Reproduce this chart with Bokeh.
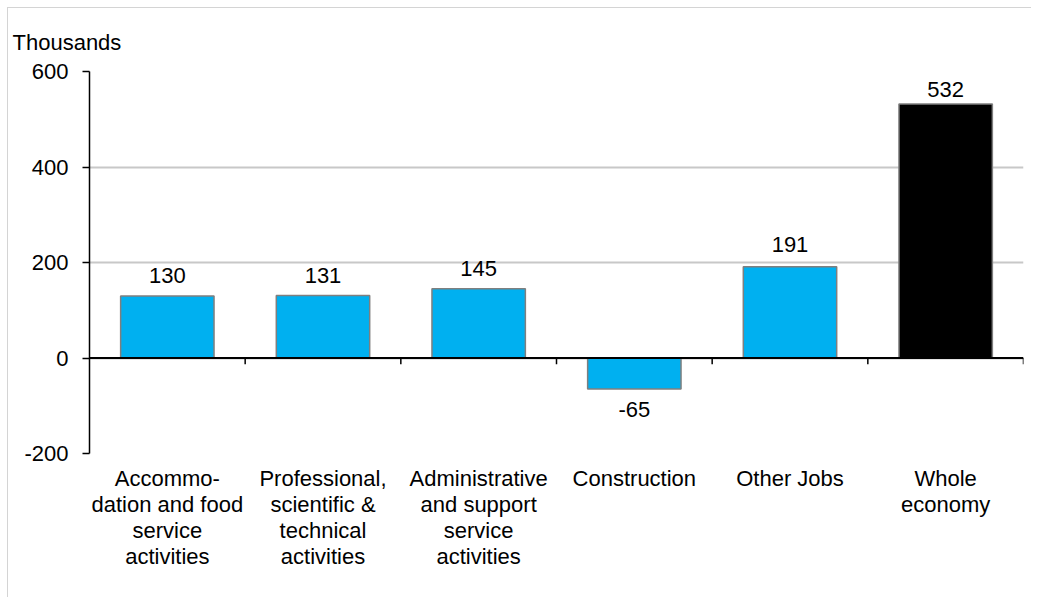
from bokeh.plotting import figure
from bokeh.models import ColumnDataSource, Span, FixedTicker
from bokeh.transform import dodge
from bokeh.core.properties import value
from bokeh.embed import file_html
from bokeh.resources import INLINE

categories = [
    "Accommo-\ndation and food\nservice\nactivities",
    "Professional,\nscientific &\ntechnical\nactivities",
    "Administrative\nand support\nservice\nactivities",
    "Construction",
    "Other Jobs",
    "Whole\neconomy",
]
values = [130, 131, 145, -65, 191, 532]
bar_colors = ["#00B0F0", "#00B0F0", "#00B0F0", "#00B0F0", "#00B0F0", "#000000"]
y_ticks = [-200, 0, 200, 400, 600]
y_tick_labels = {-200: "-200", 0: "0", 200: "200", 400: "400", 600: "600"}

FONT = "Liberation Sans"
FS = "22px"

label_offsets = [-20, -20, -20, 20, -22, -14]

src = ColumnDataSource(dict(
    cat=categories,
    val=values,
    color=bar_colors,
    label=[str(v) for v in values],
    yoff=label_offsets,
    zero=[0] * len(values),
    tick_end=[-13] * len(values),
))

p = figure(
    x_range=categories, y_range=(-200, 600),
    width=1024, height=590,
    output_backend="svg", toolbar_location=None,
    min_border_left=81, min_border_right=9,
    min_border_top=63, min_border_bottom=145,
    background_fill_color="white", border_fill_color="white",
)
p.styles = {"margin-left": "7px", "margin-top": "7px",
            "border-left": "1px solid #d4d4d4", "border-top": "1px solid #d4d4d4"}
p.outline_line_color = None

p.title.text = "Thousands"
p.title.align = "left"
p.title.offset = -77
p.title.standoff = 34
p.title.text_font = FONT
p.title.text_font_size = FS
p.title.text_font_style = "normal"
p.title.text_color = "#000000"

# grid
p.xgrid.grid_line_color = None
p.ygrid.grid_line_color = "#c8c8c8"
p.ygrid.grid_line_width = 2
p.yaxis.ticker = FixedTicker(ticks=y_ticks)
p.yaxis.major_label_overrides = y_tick_labels

# y axis
p.yaxis.axis_line_color = "black"
p.yaxis.axis_line_width = 1.5
p.yaxis.major_tick_line_color = "black"
p.yaxis.major_tick_line_width = 1.5
p.yaxis.major_tick_out = 7
p.yaxis.major_tick_in = 0
p.yaxis.minor_tick_line_color = None
p.yaxis.major_label_standoff = 14
p.yaxis.major_label_text_font = FONT
p.yaxis.major_label_text_font_size = FS
p.yaxis.major_label_text_color = "black"

# x axis (labels only)
p.xaxis.axis_line_color = None
p.xaxis.major_tick_line_color = None
p.xaxis.minor_tick_line_color = None
p.xaxis.major_label_standoff = 6
p.xaxis.major_label_text_font = FONT
p.xaxis.major_label_text_font_size = FS
p.xaxis.major_label_text_color = "black"
p.xaxis.major_label_text_line_height = 1.05

# bars
p.vbar(x="cat", top="val", bottom=0, width=0.6, source=src,
       fill_color="color", line_color="#7f7f7f", line_width=1.5)

# zero line
p.add_layout(Span(location=0, dimension="width", line_color="black", line_width=2))

# category boundary ticks on zero line
p.segment(x0=dodge("cat", 0.5, range=p.x_range), y0="zero",
          x1=dodge("cat", 0.5, range=p.x_range), y1="tick_end",
          source=src, line_color="black", line_width=1.5)

# value labels
p.text(x="cat", y="val", text="label", source=src,
       text_align="center", text_baseline="alphabetic", y_offset="yoff",
       text_font=value(FONT), text_font_size=value(FS), text_color="black")

open("out.html", "w").write(file_html(p, INLINE))
